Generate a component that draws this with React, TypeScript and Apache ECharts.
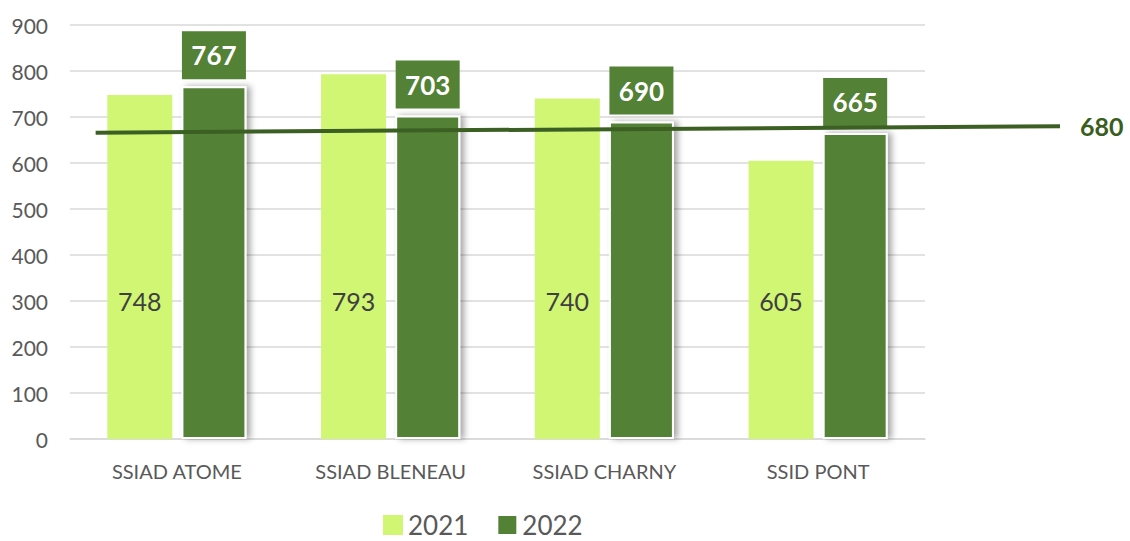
import React, { useEffect, useRef } from "react";
import * as echarts from "echarts";

const categories = ["SSIAD ATOME", "SSIAD BLENEAU", "SSIAD CHARNY", "SSID PONT"];
const values2021 = [748, 793, 740, 605];
const values2022 = [767, 703, 690, 665];
const trendX = [0.12, 4.63];
const trendY = [666, 680];
const yTicks = { min: 0, max: 900, interval: 100 };

export default function App() {
  const ref = useRef<HTMLDivElement>(null);
  useEffect(() => {
    if (!ref.current) return;
    const chart = echarts.init(ref.current, null, { renderer: "svg" });
    const font = "Lato, 'Open Sans', sans-serif";
    chart.setOption({
      animation: false,
      textStyle: { fontFamily: font },
      grid: [
        { left: 70, right: 205, top: 25, bottom: 102, containLabel: false },
        { left: 70, right: 70, top: 25, bottom: 102, containLabel: false },
      ],
      legend: {
        bottom: -2,
        left: 378,
        itemWidth: 20,
        itemHeight: 20,
        itemGap: 28,
        icon: "rect",
        data: ["2021", "2022"],
        textStyle: { fontSize: 26, color: "#595959", fontFamily: font },
      },
      xAxis: [
        {
          type: "category",
          gridIndex: 0,
          data: categories,
          axisTick: { show: false },
          axisLine: { lineStyle: { color: "#d9d9d9", width: 1.5 } },
          axisLabel: { fontSize: 20, color: "#595959", margin: 22, fontFamily: font },
        },
        { type: "value", gridIndex: 1, min: 0, max: trendX[1], show: false },
      ],
      yAxis: [
        {
          type: "value",
          gridIndex: 0,
          min: yTicks.min,
          max: yTicks.max,
          interval: yTicks.interval,
          axisLine: { show: false },
          axisTick: { show: false },
          splitLine: { lineStyle: { color: "#d9d9d9", width: 1.5 } },
          axisLabel: { fontSize: 21, color: "#595959", margin: 22, fontFamily: font },
        },
        {
          type: "value",
          gridIndex: 1,
          min: yTicks.min,
          max: yTicks.max,
          interval: yTicks.interval,
          show: false,
        },
      ],
      series: [
        {
          name: "2021",
          type: "bar",
          data: values2021,
          barWidth: 65,
          barGap: "14%",
          itemStyle: { color: "#d0f674" },
          label: {
            show: true,
            position: "insideBottom",
            distance: 126,
            fontSize: 25,
            color: "#404040",
            fontFamily: font,
          },
        },
        {
          name: "2022",
          type: "bar",
          data: values2022,
          barWidth: 65,
          itemStyle: {
            color: "#538135",
            borderColor: "#ffffff",
            borderWidth: 2,
            shadowColor: "rgba(0,0,0,0.35)",
            shadowBlur: 6,
            shadowOffsetX: 4,
            shadowOffsetY: 0,
          },
          label: {
            show: true,
            position: "top",
            distance: 7,
            fontSize: 26,
            fontWeight: "bold",
            color: "#ffffff",
            backgroundColor: "#538135",
            width: 64,
            align: "center",
            lineHeight: 30,
            padding: [9, 0, 9, 0],
            fontFamily: font,
          },
        },
        {
          name: "trend",
          type: "line",
          xAxisIndex: 1,
          yAxisIndex: 1,
          symbol: "none",
          data: trendX.map((x, i) => [x, trendY[i]]),
          lineStyle: { color: "#3c5f23", width: 4 },
          z: 5,
        },
        {
          name: "trendLabel",
          type: "scatter",
          xAxisIndex: 1,
          yAxisIndex: 1,
          symbolSize: 0,
          itemStyle: { color: "#3c5f23", opacity: 1 },
          data: [[trendX[1], trendY[1]]],
          label: {
            show: true,
            position: "right",
            distance: 20,
            formatter: (p: any) => String(p.value[1]),
            fontSize: 25,
            fontWeight: "bold",
            color: "#3a5e20",
            opacity: 1,
            fontFamily: font,
          },
          z: 6,
        },
      ],
    });
    return () => chart.dispose();
  }, []);
  return <div ref={ref} style={{ width: 1130, height: 541, position: "absolute", left: 0, top: 0 }} />;
}
